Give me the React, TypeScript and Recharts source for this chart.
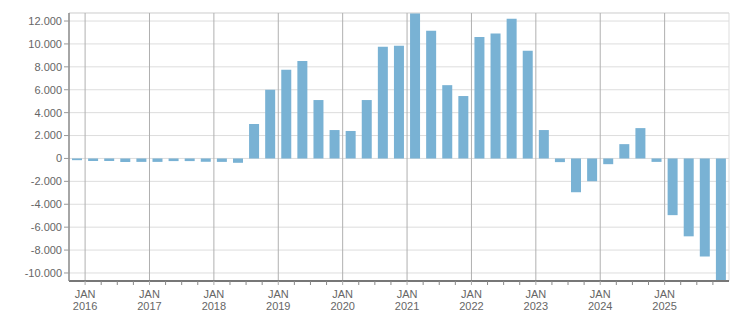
import React from 'react'
import {
  Bar,
  BarChart,
  CartesianGrid,
  ReferenceLine,
  XAxis,
  YAxis
} from 'recharts'

// quarterly values, Q4 2015 .. Q4 2025
const quarters = [
  '2015 Q4',
  '2016 Q1', '2016 Q2', '2016 Q3', '2016 Q4',
  '2017 Q1', '2017 Q2', '2017 Q3', '2017 Q4',
  '2018 Q1', '2018 Q2', '2018 Q3', '2018 Q4',
  '2019 Q1', '2019 Q2', '2019 Q3', '2019 Q4',
  '2020 Q1', '2020 Q2', '2020 Q3', '2020 Q4',
  '2021 Q1', '2021 Q2', '2021 Q3', '2021 Q4',
  '2022 Q1', '2022 Q2', '2022 Q3', '2022 Q4',
  '2023 Q1', '2023 Q2', '2023 Q3', '2023 Q4',
  '2024 Q1', '2024 Q2', '2024 Q3', '2024 Q4',
  '2025 Q1', '2025 Q2', '2025 Q3', '2025 Q4'
]

const values = [
  -150,
  -220, -220, -300, -300,
  -300, -230, -230, -290,
  -300, -380, 3000, 6000,
  7750, 8500, 5100, 2480,
  2400, 5100, 9750, 9850,
  12700, 11150, 6400, 5450,
  10600, 10900, 12200, 9400,
  2480, -320, -2950, -1990,
  -500, 1250, 2650, -300,
  -4950, -6800, -8550, -10700
]

const yTicks = [-10000, -8000, -6000, -4000, -2000, 0, 2000, 4000, 6000, 8000, 10000, 12000]
const years = [2016, 2017, 2018, 2019, 2020, 2021, 2022, 2023, 2024, 2025]

const data = quarters.map((q, i) => ({ name: q, pos: i + 0.5, value: values[i] }))

// boundaries between quarters; every 4th one is a january
const quarterTicks = quarters.slice(1).map((_, i) => i + 1)
const yearPos = (year: number) => 1 + (year - 2016) * 4

const font = "'Liberation Sans', Arial, sans-serif"
const textColor = '#666'

const fmt = (v: number) => v.toLocaleString('de-DE')

const XTick = (props: any) => {
  const { x, y, payload } = props
  const v = payload.value
  const isYear = (v - 1) % 4 === 0
  const year = 2016 + (v - 1) / 4
  return (
    <g>
      <line x1={x} x2={x} y1={y} y2={y + 4} stroke={isYear ? '#aaa' : '#888'} />
      {isYear && (
        <text x={x} y={y} textAnchor="middle" fill={textColor} fontSize={11} fontFamily={font}>
          <tspan x={x} dy={17}>JAN</tspan>
          <tspan x={x} dy={12}>{year}</tspan>
        </text>
      )}
    </g>
  )
}

export default function App(): JSX.Element {
  return (
    <div style={{ position: 'absolute', top: 0, left: 0 }}>
      <BarChart
        width={751}
        height={313}
        data={data}
        margin={{ top: 13, right: 22, bottom: 0, left: 0 }}
      >
        <CartesianGrid vertical={false} stroke="#ddd" />
        <XAxis
          dataKey="pos"
          type="number"
          domain={[0, 41]}
          ticks={quarterTicks}
          interval={0}
          height={32}
          tickSize={0}
          tickMargin={0}
          tickLine={false}
          axisLine={{ stroke: '#777', strokeWidth: 2 }}
          tick={<XTick />}
        />
        <YAxis
          width={69}
          domain={[-10700, 12700]}
          ticks={yTicks}
          interval={0}
          allowDataOverflow
          tickFormatter={fmt}
          tickSize={5}
          tickMargin={2}
          tickLine={{ stroke: '#999' }}
          axisLine={{ stroke: '#888', strokeWidth: 1.5 }}
          tick={{ fill: textColor, fontSize: 11, fontFamily: font }}
        />
        <ReferenceLine y={12700} stroke="#ddd" />
        <ReferenceLine x={41} stroke="#ddd" />
        {years.map((yr) => (
          <ReferenceLine key={yr} x={yearPos(yr)} stroke="#b0b0b0" />
        ))}
        <Bar dataKey="value" fill="#79b2d4" barSize={10} isAnimationActive={false} />
      </BarChart>
    </div>
  )
}
